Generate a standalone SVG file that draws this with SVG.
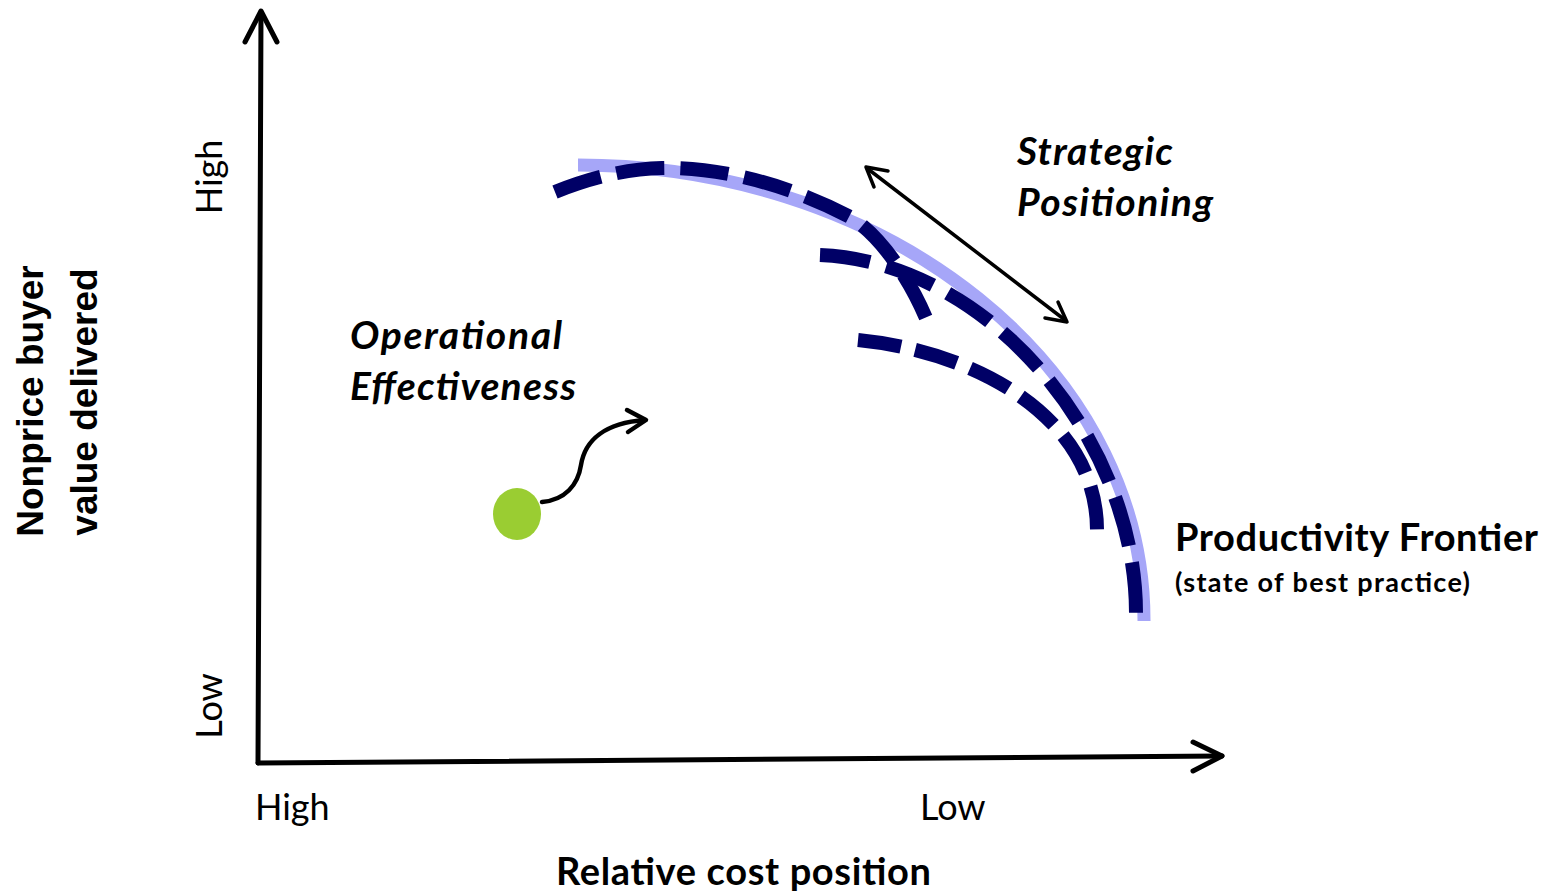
<svg xmlns="http://www.w3.org/2000/svg" width="1558" height="892" viewBox="0 0 1558 892">
<style>
.lbl{font-family:Lato,"Open Sans","Liberation Sans",sans-serif;fill:#000}
.reg{font-weight:400;font-size:36px}
.bi{font-weight:700;font-style:italic;font-size:39px}
.b{font-weight:700}
.axl{font-family:"Liberation Sans",Arial,sans-serif;font-weight:700;font-size:37px;fill:#000}
.axis{fill:none;stroke:#000;stroke-width:5;stroke-linecap:round;stroke-linejoin:round}
.thin{fill:none;stroke:#000;stroke-linecap:round;stroke-linejoin:round}
.dash{fill:none;stroke:#000066;stroke-width:14}
</style>
<rect width="1558" height="892" fill="#fff"/>
<g id="axes">
  <path class="axis" d="M258,763 L261,12"/>
  <polyline class="axis" points="245,42 261,11 277,42"/>
  <path class="axis" d="M258,763 L1222,756"/>
  <polyline class="axis" points="1193,742 1222,756 1193,771"/>
</g>
<g id="frontier">
  <path d="M578,165 A566,455 0 0 1 1144,621" fill="none" stroke="#a6a6f8" stroke-width="13"/>
</g>
<g id="connectors">
  <path id="curve1" class="dash" stroke-dasharray="48.2 16.1" d="M555,192 C590,178 625,169 662,168 C730,167 800,190 852,218 C880,236 908,276 926,318"/>
  <path id="curve2" class="dash" stroke-dasharray="50.5 16.8" d="M820,255 C990,262 1136,440 1136,613"/>
  <path id="curve3" class="dash" stroke-dasharray="43.5 14.5" d="M858,340 C980,352 1097,420 1097,530"/>
  <g id="strategic-arrow">
    <path class="thin" stroke-width="3.5" d="M868,169 L1065,320"/>
    <polyline class="thin" stroke-width="3.5" points="888,171 866,167 874,187"/>
    <polyline class="thin" stroke-width="3.5" points="1058,302 1067,322 1045,318"/>
  </g>
  <g id="oe-arrow">
    <path class="thin" stroke-width="4.5" d="M542,502 C565,500 578,485 581,465 C585,440 605,423 645,420"/>
    <polyline class="thin" stroke-width="4.5" points="627,410 646,420 628,432"/>
  </g>
</g>
<g id="firm">
  <ellipse cx="517" cy="514" rx="24" ry="26" fill="#9acd32"/>
</g>
<g id="y-title">
  <text class="axl" transform="translate(43,401) rotate(-90)" text-anchor="middle">Nonprice buyer</text>
  <text class="axl" transform="translate(97,402) rotate(-90)" text-anchor="middle">value delivered</text>
</g>
<g id="y-ticks">
  <text class="lbl reg" transform="translate(222,177) rotate(-90)" text-anchor="middle">High</text>
  <text class="lbl reg" transform="translate(222,706) rotate(-90)" text-anchor="middle">Low</text>
</g>
<g id="x-ticks">
  <text class="lbl reg" x="255" y="820">High</text>
  <text class="lbl reg" x="920" y="820">Low</text>
</g>
<g id="x-title">
  <text class="lbl b" x="556" y="885" font-size="38" textLength="375">Relative cost position</text>
</g>
<g id="strategic-label">
  <text class="lbl bi" x="1017" y="165" textLength="156">Strategic</text>
  <text class="lbl bi" x="1017" y="216" textLength="196">Positioning</text>
</g>
<g id="oe-label">
  <text class="lbl bi" x="350" y="349" textLength="212">Operational</text>
  <text class="lbl bi" x="350" y="400" textLength="226">Effectiveness</text>
</g>
<g id="frontier-label">
  <text class="lbl b" x="1175" y="551" font-size="38" textLength="363">Productivity Frontier</text>
  <text class="lbl b" x="1175" y="592" font-size="27" textLength="295">(state of best practice)</text>
</g>
</svg>
